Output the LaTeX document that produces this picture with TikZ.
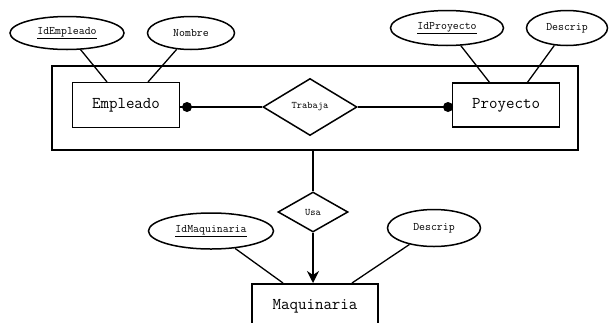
\documentclass[tikz,border=0pt]{standalone}
\usetikzlibrary{shapes.geometric,arrows.meta}
\tikzset{
	entidad/.style={draw,line width=1.6pt,inner sep=0,font=\ttfamily\fontsize{16.5}{18}\selectfont},
	atributo/.style={draw,ellipse,line width=1.5pt,inner sep=0,font=\ttfamily\fontsize{11.5}{13}\selectfont},
	relacion/.style={draw,diamond,line width=1.5pt,inner sep=0,font=\ttfamily\fontsize{10}{12}\selectfont},
	enlace/.style={line width=1.3pt},
	punto/.style={circle,fill,inner sep=0,minimum size=10pt}
}
\begin{document}
\begin{tikzpicture}[x=1pt,y=-1pt]
	\useasboundingbox [fill=white] (0,0) rectangle (610,322);
	\clip (0,0) rectangle (610,322);
	% agregacion
	\node [draw,line width=1.6pt,minimum width=526pt,minimum height=84pt] at (315,108) (agreg) {};
	\node [entidad,minimum width=107pt,minimum height=45pt] at (126,105) (empleado) {Empleado};
	\node [entidad,minimum width=107pt,minimum height=44pt] at (506,105) (proyecto) {Proyecto};
	\node [relacion,minimum width=94pt,minimum height=57pt] at (310,107) (trabaja) {Trabaja};
	\node [punto] at (187,107) (p1) {};
	\node [punto] at (448,107) (p2) {};
	\draw [enlace] (empleado.east |- p1) -- (trabaja.west);
	\draw [enlace] (trabaja.east) -- (proyecto.west |- p2);
	% atributos
	\node [atributo,minimum width=114pt,minimum height=33pt] at (67,33) (idemp) {\underline{IdEmpleado}};
	\node [atributo,minimum width=87pt,minimum height=33pt] at (191,33) (nombre) {Nombre};
	\node [atributo,minimum width=113pt,minimum height=35pt] at (447,28) (idproy) {\underline{IdProyecto}};
	\node [atributo,minimum width=81pt,minimum height=35pt] at (567,28) (descp) {Descrip};
	\draw [enlace] (idemp) -- (107,82) (nombre) -- (148,82);
	\draw [enlace] (idproy) -- (490,83) (descp) -- (527,83);
	% maquinaria
	\node [relacion,minimum width=70pt,minimum height=40pt] at (313,212) (usa) {Usa};
	\node [entidad,minimum width=126pt,minimum height=44pt,anchor=north] at (315,283) (maquinaria) {Maquinaria};
	\node [atributo,minimum width=125pt,minimum height=36pt] at (211,231) (idmaq) {\underline{IdMaquinaria}};
	\node [atributo,minimum width=93pt,minimum height=37pt] at (434,228) (descm) {Descrip};
	\draw [enlace] (agreg.south -| usa) -- (usa.north);
	\draw [enlace,-{Stealth[length=12pt,width=12pt]}] (usa.south) -- (usa.south |- maquinaria.north);
	\draw [enlace] (idmaq) -- (283,283) (descm) -- (352,283);
\end{tikzpicture}
\end{document}
